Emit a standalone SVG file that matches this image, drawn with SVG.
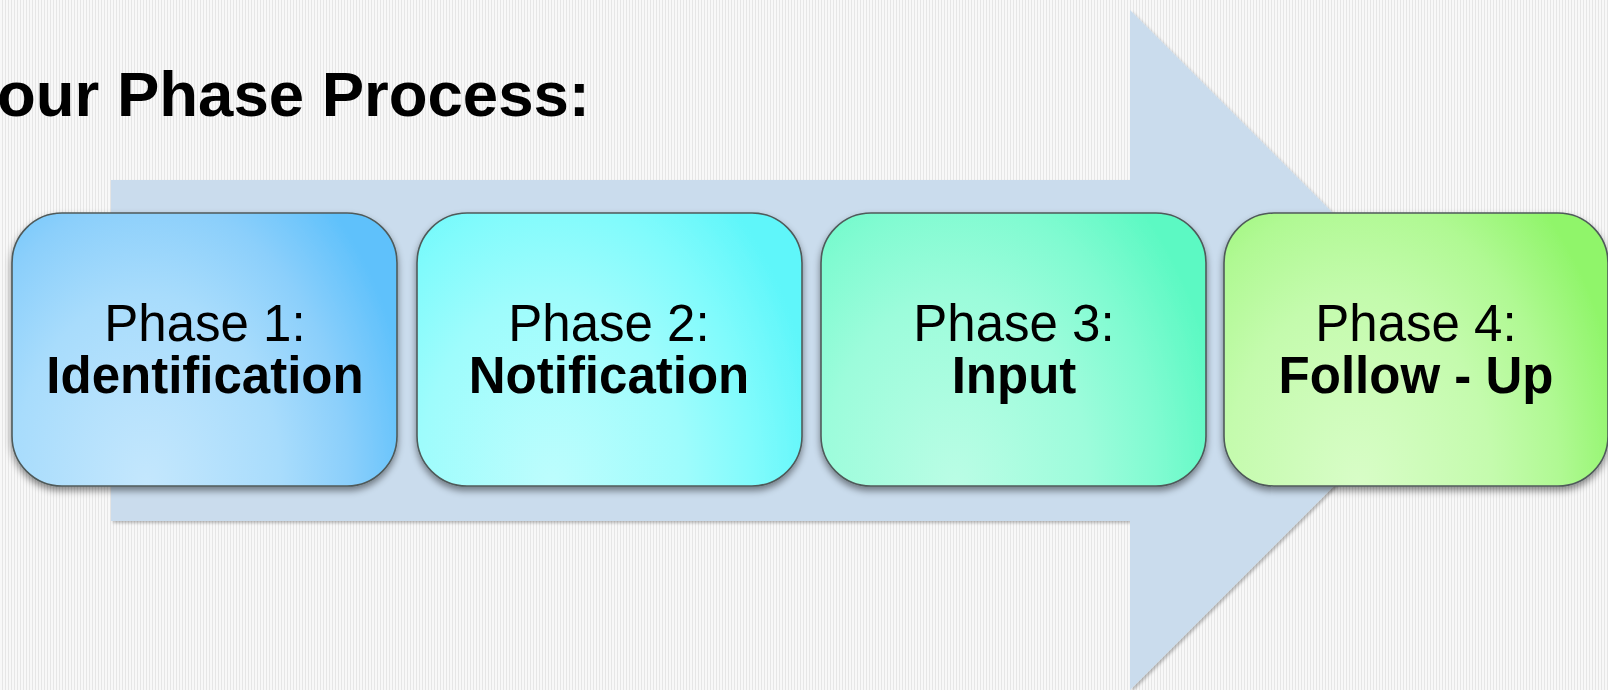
<svg xmlns="http://www.w3.org/2000/svg" width="1608" height="690" viewBox="0 0 1608 690">
  <style>
    .title { font-family: "Liberation Sans", Arial, sans-serif; font-weight: bold; font-size: 63.5px; fill: #000; }
    .lbl { font-family: "Liberation Sans", Arial, sans-serif; font-size: 51px; fill: #000; text-anchor: middle; }
    .lbl .b { font-weight: bold; }
    .box { stroke: #4f5a5a; stroke-width: 1.6; }
  </style>
  <defs>
    <pattern id="bg" width="3" height="4" patternUnits="userSpaceOnUse">
      <rect width="3" height="4" fill="#f8f8f8"/>
      <rect x="2" width="1" height="4" fill="#e6e6e6"/>
    </pattern>
    <filter id="ashadow" x="-5%" y="-5%" width="110%" height="110%">
      <feDropShadow dx="2" dy="2" stdDeviation="1.5" flood-color="#000" flood-opacity="0.25"/>
    </filter>
    <filter id="bshadow" x="-5%" y="-5%" width="110%" height="115%">
      <feDropShadow dx="0" dy="4" stdDeviation="3.5" flood-color="#000" flood-opacity="0.45"/>
    </filter>
    <radialGradient id="g1" cx="0.35" cy="1" r="0.7" gradientTransform="translate(0.35,1) scale(1,2) translate(-0.35,-1)">
      <stop offset="0" stop-color="#c4e7fd"/>
      <stop offset="0.5" stop-color="#a8dcfc"/>
      <stop offset="0.75" stop-color="#8bcffb"/>
      <stop offset="1" stop-color="#5fc1fb"/>
    </radialGradient>
    <radialGradient id="g2" cx="0.35" cy="1" r="0.7" gradientTransform="translate(0.35,1) scale(1,2) translate(-0.35,-1)">
      <stop offset="0" stop-color="#bdfdfd"/>
      <stop offset="0.5" stop-color="#9efcfc"/>
      <stop offset="0.75" stop-color="#80fbfc"/>
      <stop offset="1" stop-color="#5ef6fa"/>
    </radialGradient>
    <radialGradient id="g3" cx="0.35" cy="1" r="0.7" gradientTransform="translate(0.35,1) scale(1,2) translate(-0.35,-1)">
      <stop offset="0" stop-color="#bafde5"/>
      <stop offset="0.5" stop-color="#9cfcdb"/>
      <stop offset="0.75" stop-color="#80fbd1"/>
      <stop offset="1" stop-color="#5cf9c3"/>
    </radialGradient>
    <radialGradient id="g4" cx="0.35" cy="1" r="0.7" gradientTransform="translate(0.35,1) scale(1,2) translate(-0.35,-1)">
      <stop offset="0" stop-color="#d8fdc7"/>
      <stop offset="0.5" stop-color="#c4fbad"/>
      <stop offset="0.75" stop-color="#b0f993"/>
      <stop offset="1" stop-color="#90f56a"/>
    </radialGradient>
  </defs>

  <rect width="1608" height="690" fill="url(#bg)"/>

  <text class="title" x="-3" y="116">our Phase Process:</text>

  <g id="arrow" filter="url(#ashadow)">
    <polygon points="111,180 1130,180 1130,10 1470,350 1130,690 1130,521 111,521" fill="#cadced"/>
  </g>

  <g id="phase1" filter="url(#bshadow)">
    <rect class="box" x="12" y="213" width="385" height="273" rx="50" ry="50" fill="url(#g1)"/>
    <text class="lbl" x="205" y="341">Phase 1:</text>
    <text class="lbl" x="205" y="393"><tspan class="b">Identification</tspan></text>
  </g>
  <g id="phase2" filter="url(#bshadow)">
    <rect class="box" x="417" y="213" width="385" height="273" rx="50" ry="50" fill="url(#g2)"/>
    <text class="lbl" x="609" y="341">Phase 2:</text>
    <text class="lbl" x="609" y="393"><tspan class="b">Notification</tspan></text>
  </g>
  <g id="phase3" filter="url(#bshadow)">
    <rect class="box" x="821" y="213" width="385" height="273" rx="50" ry="50" fill="url(#g3)"/>
    <text class="lbl" x="1014" y="341">Phase 3:</text>
    <text class="lbl" x="1014" y="393"><tspan class="b">Input</tspan></text>
  </g>
  <g id="phase4" filter="url(#bshadow)">
    <rect class="box" x="1224" y="213" width="384" height="273" rx="50" ry="50" fill="url(#g4)"/>
    <text class="lbl" x="1416" y="341">Phase 4:</text>
    <text class="lbl" x="1416" y="393"><tspan class="b">Follow - Up</tspan></text>
  </g>
  <g id="connectors"></g>
</svg>
